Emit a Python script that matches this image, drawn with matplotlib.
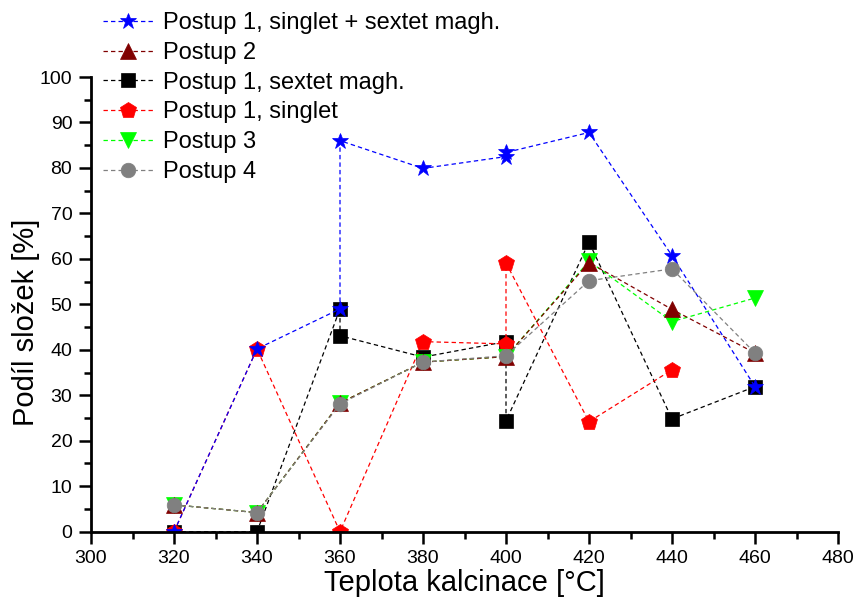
import matplotlib
matplotlib.use("Agg")
import matplotlib.pyplot as plt
from matplotlib.ticker import MultipleLocator

plt.rcParams['font.family'] = ['Liberation Sans', 'DejaVu Sans']

# Postup 1, singlet + sextet magh.
temp_p1_sum = [320, 340, 360, 360, 380, 400, 400, 420, 440, 460]
val_p1_sum = [0.0, 40.2, 49.0, 86.0, 79.9, 82.5, 83.4, 87.8, 60.7, 31.9]

# Postup 2
temp_p2 = [320, 340, 360, 380, 400, 420, 440, 460]
val_p2 = [5.9, 4.2, 28.3, 37.3, 38.5, 59.2, 48.9, 39.3]

# Postup 1, sextet magh.
temp_p1_sextet = [320, 340, 360, 360, 380, 400, 400, 420, 440, 460]
val_p1_sextet = [0.0, 0.0, 49.0, 43.1, 38.4, 41.8, 24.4, 63.7, 24.8, 31.9]

# Postup 1, singlet
temp_p1_singlet = [320, 340, 360, 380, 400, 400, 420, 440]
val_p1_singlet = [0.0, 40.2, 0.0, 41.8, 41.3, 59.1, 24.2, 35.6]

# Postup 3
temp_p3 = [320, 340, 360, 380, 400, 420, 440, 460]
val_p3 = [5.9, 4.2, 28.3, 37.3, 38.5, 59.5, 46.2, 51.4]

# Postup 4
temp_p4 = [320, 340, 360, 380, 400, 420, 440, 460]
val_p4 = [5.9, 4.2, 28.1, 37.3, 38.7, 55.2, 57.8, 39.3]

labels = ["Postup 1, singlet + sextet magh.", "Postup 2", "Postup 1, sextet magh.",
          "Postup 1, singlet", "Postup 3", "Postup 4"]

fig = plt.figure(figsize=(8.57, 6.0), dpi=100)
ax = fig.add_axes([91 / 857, 1 - 531.7 / 600, (838 - 91) / 857, (531.7 - 77) / 600])

dash = (0, (3.5, 2.5))
lw = 0.9

def series(x, y, color, marker, ms, z, label):
    line, = ax.plot(x, y, color=color, linestyle=dash, linewidth=lw,
                    marker=marker, markersize=ms, markerfacecolor=color,
                    markeredgecolor=color, markeredgewidth=0.5, zorder=z, label=label)
    return line

h_sextet = series(temp_p1_sextet, val_p1_sextet, '#000000', 's', 9.5, 2.0, labels[2])
h_singlet = series(temp_p1_singlet, val_p1_singlet, '#ff0000', 'p', 12, 2.1, labels[3])
h_sum = series(temp_p1_sum, val_p1_sum, '#0000ff', '*', 12, 2.2, labels[0])
h_p3 = series(temp_p3, val_p3, '#00ff00', 'v', 11, 2.3, labels[4])
h_p2 = series(temp_p2, val_p2, '#800000', '^', 11, 2.4, labels[1])
h_p4 = series(temp_p4, val_p4, '#808080', 'o', 10.5, 2.5, labels[5])

ax.set_xlim(300, 480)
ax.set_ylim(0, 100)
ax.xaxis.set_major_locator(MultipleLocator(20))
ax.xaxis.set_minor_locator(MultipleLocator(10))
ax.yaxis.set_major_locator(MultipleLocator(10))
ax.yaxis.set_minor_locator(MultipleLocator(5))

for side in ('top', 'right'):
    ax.spines[side].set_visible(False)
for side in ('left', 'bottom'):
    ax.spines[side].set_linewidth(2.0)

ax.tick_params(which='major', direction='out', length=8.5, width=1.8,
               labelsize=14, pad=5)
ax.tick_params(which='minor', direction='out', length=5, width=1.8)

ax.set_xlabel("Teplota kalcinace [°C]", fontsize=21)
ax.set_ylabel("Podíl složek [%]", fontsize=21)
ax.xaxis.set_label_coords(0.5, -0.083)
ax.yaxis.set_label_coords(-0.068, 0.46)

handles = [h_sum, h_p2, h_sextet, h_singlet, h_p3, h_p4]
fig.legend(handles, labels, loc='upper left', bbox_to_anchor=(103 / 857, 1 - 12 / 600),
           bbox_transform=fig.transFigure, frameon=False, fontsize=17,
           handlelength=2.1, handletextpad=0.45, labelspacing=0.33,
           borderpad=0, borderaxespad=0, numpoints=1)

fig.savefig("out.png", dpi=100)
